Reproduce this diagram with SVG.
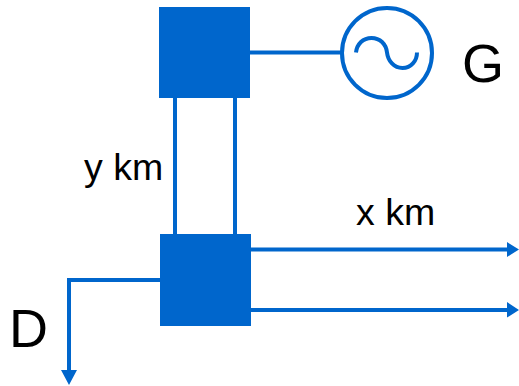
<svg xmlns="http://www.w3.org/2000/svg" width="519" height="386" viewBox="0 0 519 386">
<style>
.b{fill:#0066cc}
.l{fill:none;stroke:#0066cc;stroke-width:4}
.t{font-family:"Liberation Sans",Arial,sans-serif;fill:#000}
</style>
<rect width="519" height="386" fill="#fff"/>
<g id="connectors">
<path class="l" d="M175 97V235M235 97V235M249 52.500H342"/>
<path class="l" d="M250 249.500H508M250 310H508"/>
<path class="l" d="M160 280H69V372"/>
<path class="b" d="M507 242L519 249.500L507 257ZM507 302L519 310L507 317.500ZM61 370H77L69 385Z"/>
</g>
<g id="node-top"><rect class="b" x="159" y="7" width="91" height="91"/></g>
<g id="node-bottom"><rect class="b" x="160" y="234" width="91" height="92"/></g>
<g id="generator">
<circle class="l" cx="387" cy="53" r="45"/>
<path class="l" d="M356 52.500C357 44 363 38 371.500 38C380 38 386 44 387 52.500C388 61 394 68 402.500 68C411 68 417 61 417 52.500"/>
</g>
<g id="labels">
<text class="t" x="462" y="82" font-size="54">G</text>
<text class="t" x="84" y="180" font-size="37.500">y km</text>
<text class="t" x="356" y="225" font-size="37.500">x km</text>
<text class="t" x="9" y="347" font-size="54">D</text>
</g>
</svg>
